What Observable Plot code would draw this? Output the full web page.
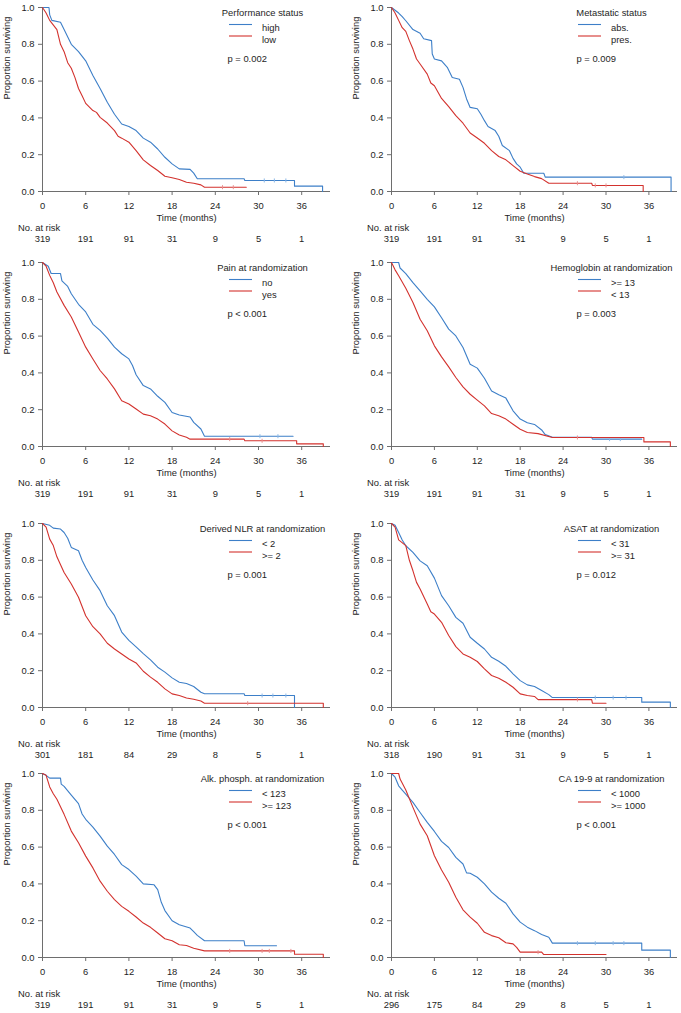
<!DOCTYPE html>
<html><head><meta charset="utf-8">
<script src="https://cdn.jsdelivr.net/npm/d3@7"></script>
<script src="https://cdn.jsdelivr.net/npm/@observablehq/plot@0.6"></script>
<style>
html,body{margin:0;padding:0;background:#fff;overflow:hidden}
#wrap{position:relative;width:681px;height:1013px;background:#fff}
#wrap > div{position:absolute}
</style></head><body><div id="wrap"></div>
<script>
// ---------- data ----------
const timeTicks = [0, 6, 12, 18, 24, 30, 36];
const survTicks = [0, 0.2, 0.4, 0.6, 0.8, 1.0];

const titles = ["Performance status", "Metastatic status", "Pain at randomization", "Hemoglobin at randomization",
  "Derived NLR at randomization", "ASAT at randomization", "Alk. phosph. at randomization", "CA 19-9 at randomization"];
const blueLabels = ["high", "abs.", "no", ">= 13", "< 2", "< 31", "< 123", "< 1000"];
const redLabels = ["low", "pres.", "yes", "< 13", ">= 2", ">= 31", ">= 123", ">= 1000"];
const pValues = ["p = 0.002", "p = 0.009", "p < 0.001", "p = 0.003", "p = 0.001", "p = 0.012", "p < 0.001", "p < 0.001"];

const atRiskA = [319, 191, 91, 31, 9, 5, 1];
const atRiskNLR = [301, 181, 84, 29, 8, 5, 1];
const atRiskASAT = [318, 190, 91, 31, 9, 5, 1];
const atRiskCA = [296, 175, 84, 29, 8, 5, 1];

// survival curves: [time (months), proportion surviving]
const perfHigh = [[0,1],[0.9,1],[1.0,0.96],[1.3,0.93],[2.5,0.92],[3,0.88],[4,0.80],[5,0.76],[6,0.71],[7,0.63],[8,0.56],[9,0.485],[10,0.42],[11,0.367],[12,0.353],[13,0.331],[14,0.29],[15,0.268],[16,0.231],[17,0.186],[18,0.15],[19,0.123],[20.5,0.12],[21,0.10],[21.5,0.069],[28,0.069],[28.1,0.06],[35,0.06],[35,0.029],[38.9,0.029],[38.9,0]];
const perfLow = [[0,1],[0.5,0.97],[1,0.93],[2,0.88],[2.5,0.80],[3,0.76],[3.5,0.70],[4,0.67],[4.5,0.62],[5,0.56],[5.5,0.52],[6,0.479],[7,0.44],[7.5,0.43],[8,0.403],[9,0.372],[10,0.331],[10.5,0.30],[11,0.29],[12,0.268],[13,0.222],[14,0.172],[15,0.141],[16,0.114],[17,0.083],[18,0.075],[19,0.065],[20,0.05],[21,0.045],[22,0.036],[22.5,0.0235],[28.3,0.0235]];
const metAbs = [[0,1],[1,0.97],[1.5,0.95],[2,0.928],[3,0.88],[4,0.86],[4.5,0.83],[5.6,0.82],[5.7,0.747],[6,0.72],[7,0.71],[7.8,0.675],[8.5,0.62],[9.5,0.61],[10,0.566],[10.5,0.503],[11,0.457],[12,0.45],[12.5,0.42],[13,0.385],[13.5,0.353],[14.5,0.331],[15,0.30],[15.5,0.25],[16.5,0.222],[17,0.18],[17.5,0.15],[18,0.132],[18.5,0.099],[21.3,0.099],[21.5,0.078],[39.1,0.078],[39.1,0]];
const metPres = [[0,1],[0.5,0.97],[1,0.93],[1.5,0.89],[2,0.87],[2.5,0.82],[3,0.774],[3.5,0.72],[4,0.693],[5,0.638],[5.5,0.59],[6,0.575],[7,0.506],[8,0.461],[9,0.412],[10,0.371],[11,0.318],[12,0.291],[13,0.262],[14,0.222],[15,0.19],[16,0.172],[17,0.141],[18,0.11],[19,0.095],[20,0.081],[21,0.07],[22,0.045],[28,0.045],[28.1,0.033],[35.2,0.033],[35.2,0]];
const painNo = [[0,1],[0.8,0.98],[1.2,0.94],[2.5,0.94],[2.7,0.90],[3.5,0.87],[4,0.83],[5,0.773],[6,0.731],[7,0.664],[8,0.631],[9,0.589],[10,0.54],[11,0.504],[12,0.476],[12.5,0.44],[13,0.39],[14,0.331],[15,0.313],[16,0.273],[17,0.24],[18,0.185],[19,0.171],[20.5,0.16],[21,0.131],[22,0.095],[22.5,0.056],[34.8,0.056]];
const painYes = [[0,1],[0.5,0.98],[1,0.93],[1.5,0.89],[2,0.84],[3,0.767],[4,0.704],[5,0.622],[6,0.54],[7,0.476],[8,0.413],[9,0.367],[10,0.313],[11,0.249],[12,0.231],[13,0.204],[14,0.176],[15,0.167],[16,0.149],[17,0.122],[18,0.085],[19,0.062],[20,0.05],[20.5,0.04],[28,0.04],[28.1,0.031],[35.3,0.031],[35.3,0.0145],[39,0.0145],[39,0]];
const hbHigh = [[0,1],[1,1],[1.2,0.97],[2,0.94],[3,0.891],[4,0.846],[5,0.80],[6,0.759],[7,0.70],[8,0.638],[9,0.601],[10,0.538],[11,0.447],[12,0.426],[13,0.371],[14,0.302],[15,0.281],[16,0.263],[17,0.194],[18,0.149],[19,0.129],[20,0.12],[21,0.09],[21.5,0.065],[22.5,0.05],[28,0.05],[28.1,0.04],[35,0.04]];
const hbLow = [[0,1],[0.5,0.96],[1,0.928],[2,0.86],[3,0.783],[4,0.692],[5,0.629],[6,0.547],[7,0.487],[8,0.433],[9,0.375],[10,0.324],[11,0.284],[12,0.252],[13,0.221],[14,0.179],[15,0.167],[16,0.149],[17,0.121],[18,0.094],[19,0.076],[20.5,0.07],[22.5,0.049],[35.3,0.049],[35.3,0.025],[39,0.025],[39,0]];
const nlrLow = [[0,1],[1,0.99],[1.5,0.975],[2.5,0.97],[3,0.951],[3.5,0.92],[4,0.87],[5,0.852],[5.5,0.80],[6,0.761],[7,0.693],[8,0.635],[9,0.553],[10,0.499],[11,0.41],[12,0.365],[13,0.329],[14,0.293],[15,0.259],[16,0.219],[17,0.192],[18,0.161],[19,0.137],[20,0.13],[21,0.114],[22,0.083],[22.5,0.075],[28,0.075],[28.1,0.065],[35,0.065],[35,0]];
const nlrHigh = [[0,1],[0.5,0.98],[1,0.915],[1.5,0.88],[2,0.819],[3,0.734],[4,0.671],[5,0.599],[6,0.499],[7,0.439],[8,0.40],[9,0.349],[10,0.318],[11,0.291],[12,0.264],[13,0.242],[14,0.197],[15,0.165],[16,0.137],[17,0.101],[18,0.074],[19,0.065],[20,0.052],[21,0.045],[22,0.035],[22.5,0.0235],[39,0.0235],[39,0]];
const asatLow = [[0,1],[0.5,0.99],[1,0.951],[1.5,0.91],[2,0.879],[3,0.843],[4,0.797],[5,0.77],[6,0.703],[7,0.608],[8,0.553],[9,0.49],[10,0.458],[11,0.382],[12,0.349],[13,0.318],[14,0.273],[15,0.251],[16,0.224],[17,0.183],[18,0.146],[19,0.123],[20,0.114],[21,0.092],[22,0.07],[22.5,0.054],[35,0.054],[35,0.029],[39,0.029],[39,0]];
const asatHigh = [[0,1],[0.5,0.98],[1,0.911],[2,0.88],[2.5,0.80],[3,0.743],[3.5,0.68],[4,0.644],[5,0.562],[5.5,0.52],[6,0.508],[7,0.463],[8,0.391],[9,0.331],[10,0.291],[11,0.273],[12,0.25],[13,0.21],[14,0.174],[15,0.159],[16,0.137],[17,0.11],[18,0.074],[19,0.065],[20,0.06],[20.5,0.043],[28,0.043],[28.1,0.0235],[30,0.0235]];
const alkLow = [[0,1],[0.5,0.99],[1,0.975],[2.5,0.975],[2.6,0.942],[3,0.93],[4,0.882],[5,0.836],[5.5,0.78],[6,0.751],[7,0.709],[8,0.66],[9,0.605],[10,0.56],[11,0.505],[12,0.478],[13,0.442],[14,0.40],[15.5,0.395],[16,0.369],[16.5,0.30],[17,0.255],[18,0.20],[19,0.178],[20.5,0.16],[21,0.14],[21.5,0.12],[22.5,0.091],[28,0.091],[28.1,0.064],[32.5,0.064]];
const alkHigh = [[0,1],[0.5,0.99],[1,0.927],[1.5,0.89],[2,0.86],[3,0.778],[4,0.687],[5,0.624],[6,0.551],[7,0.487],[8,0.415],[9,0.36],[10,0.315],[11,0.278],[12,0.251],[13,0.22],[14,0.187],[15,0.164],[16,0.133],[17,0.102],[18,0.091],[19,0.069],[20,0.065],[21,0.05],[22.5,0.036],[35,0.036],[35,0.018],[39,0.018],[39,0]];
const caLow = [[0,1],[0.5,0.98],[1,0.933],[1.5,0.91],[2,0.888],[3,0.843],[4,0.788],[5,0.734],[6,0.685],[7,0.631],[8,0.598],[9,0.544],[10,0.508],[10.5,0.46],[11,0.458],[12,0.436],[13,0.40],[14,0.355],[15,0.322],[16,0.295],[17,0.237],[18,0.192],[19,0.165],[20,0.146],[21,0.125],[22,0.11],[22.5,0.078],[35,0.078],[35,0.04],[39,0.04],[39,0]];
const caHigh = [[0,1],[1,1],[1.2,0.97],[2,0.91],[3,0.816],[4,0.725],[5,0.662],[6,0.553],[7,0.476],[8,0.409],[9,0.327],[10,0.259],[11,0.219],[12,0.186],[13,0.137],[14,0.119],[15,0.107],[16,0.08],[17,0.074],[17.5,0.055],[18,0.029],[21,0.029],[21.3,0.016],[30,0.016]];

// censoring times (months)
const perfHighCens = [30.8, 32.2, 33.8];
const perfLowCens = [25, 26.5];
const metAbsCens = [32.5];
const metPresCens = [26, 28.5, 30];
const painNoCens = [30.2, 32.7];
const painYesCens = [26, 30.5];
const hbHighCens = [30.5, 32];
const hbLowCens = [26];
const nlrLowCens = [30.5, 32, 33.8];
const nlrHighCens = [28.5];
const asatLowCens = [28.5, 31, 32.8];
const asatHighCens = [26];
const alkLowCens = [];
const alkHighCens = [26, 30.5, 31.5, 34.5];
const caLowCens = [26, 28.5, 31, 32.5];
const caHighCens = [20.5];

// ---------- assembly ----------
const panels = [
  {blue: perfHigh, red: perfLow, bc: perfHighCens, rc: perfLowCens, risk: atRiskA},
  {blue: metAbs, red: metPres, bc: metAbsCens, rc: metPresCens, risk: atRiskA},
  {blue: painNo, red: painYes, bc: painNoCens, rc: painYesCens, risk: atRiskA},
  {blue: hbHigh, red: hbLow, bc: hbHighCens, rc: hbLowCens, risk: atRiskA},
  {blue: nlrLow, red: nlrHigh, bc: nlrLowCens, rc: nlrHighCens, risk: atRiskNLR},
  {blue: asatLow, red: asatHigh, bc: asatLowCens, rc: asatHighCens, risk: atRiskASAT},
  {blue: alkLow, red: alkHigh, bc: alkLowCens, rc: alkHighCens, risk: atRiskA},
  {blue: caLow, red: caHigh, bc: caLowCens, rc: caHighCens, risk: atRiskCA}
];

const BLUE = "#3d7fc8", RED = "#d3322e";
const BLUE_C = "#8cb8e6", RED_C = "#e99090";
const AXIS = "#6e6e6e", TXT = "#1e1e1e";
const FONT = "'Liberation Sans', Arial, Helvetica, sans-serif";

const tickSymbol = {draw(ctx, size) { const r = Math.sqrt(size / Math.PI); ctx.moveTo(0, -r); ctx.lineTo(0, r); }};

function survAt(curve, t) {
  let s = 1;
  for (const [ti, si] of curve) if (ti <= t) s = si;
  return s;
}
const toObj = a => a.map(([t, s]) => ({t, s}));

const rowTops = [6.7, 262, 522.7, 772.7];
const wrap = document.getElementById("wrap");

panels.forEach((cfg, i) => {
  const col = i % 2, row = Math.floor(i / 2);
  const width = col === 0 ? 340 : 341;
  const ml = col === 0 ? 42 : 51, mr = col === 0 ? 10 : 4;
  const mt = 6, frameH = 184, mb = 56;
  const fw = width - ml - mr;
  const ppm = fw / 40;
  const lx1 = 187 / ppm, lx2 = 210 / ppm;
  const ly1 = 1 - 17 / frameH, ly2 = 1 - 28.5 / frameH;
  const bcens = cfg.bc.map(t => ({t, s: survAt(cfg.blue, t)}));
  const rcens = cfg.rc.map(t => ({t, s: survAt(cfg.red, t)}));

  const svg = Plot.plot({
    width, height: mt + frameH + mb,
    marginTop: mt, marginBottom: mb, marginLeft: ml, marginRight: mr,
    x: {domain: [0, 40]},
    y: {domain: [0, 1]},
    style: {fontFamily: FONT, fontSize: "9.4px", background: "transparent", color: TXT, overflow: "visible"},
    marks: [
      Plot.ruleY([0], {stroke: AXIS}),
      Plot.ruleX([0], {stroke: AXIS}),
      Plot.axisX(timeTicks, {tickSize: 4, tickPadding: 7, stroke: AXIS, fill: TXT, label: null, tickFormat: d => String(d)}),
      Plot.axisY(survTicks, {tickSize: 4, tickPadding: 4, stroke: AXIS, fill: TXT, label: null, tickFormat: d => d.toFixed(1)}),
      Plot.line(toObj(cfg.blue), {x: "t", y: "s", stroke: BLUE, strokeWidth: 1.1}),
      Plot.dot(bcens, {x: "t", y: "s", symbol: tickSymbol, r: 2, stroke: BLUE_C, fill: "none", strokeWidth: 1}),
      Plot.line(toObj(cfg.red), {x: "t", y: "s", stroke: RED, strokeWidth: 1.1}),
      Plot.dot(rcens, {x: "t", y: "s", symbol: tickSymbol, r: 2, stroke: RED_C, fill: "none", strokeWidth: 1}),
      // axis titles
      Plot.text(["Proportion surviving"], {frameAnchor: "left", rotate: -90, dx: -36, text: d => d, fill: TXT}),
      Plot.text(["Time (months)"], {frameAnchor: "bottom", dy: 29.5, text: d => d, fill: TXT}),
      Plot.text(["No. at risk"], {frameAnchor: "bottom-left", dx: -24.5, dy: 39, textAnchor: "start", text: d => d, fill: TXT}),
      Plot.text(cfg.risk, {x: (d, j) => timeTicks[j], frameAnchor: "bottom", dy: 50.5, text: d => String(d), fill: TXT}),
      // legend
      Plot.text([titles[i]], {frameAnchor: "top-left", dx: 220, dy: 1.6, textAnchor: "middle", text: d => d, fill: TXT}),
      Plot.ruleY([ly1], {x1: lx1, x2: lx2, stroke: BLUE, strokeWidth: 1.1}),
      Plot.ruleY([ly2], {x1: lx1, x2: lx2, stroke: RED, strokeWidth: 1.1}),
      Plot.text([blueLabels[i]], {frameAnchor: "top-left", dx: 219.5, dy: 17, textAnchor: "start", text: d => d, fill: TXT}),
      Plot.text([redLabels[i]], {frameAnchor: "top-left", dx: 219.5, dy: 28.5, textAnchor: "start", text: d => d, fill: TXT}),
      Plot.text([pValues[i]], {frameAnchor: "top-left", dx: 185, dy: 47.5, textAnchor: "start", text: d => d, fill: TXT})
    ]
  });
  const div = document.createElement("div");
  div.style.left = (col === 0 ? 0 : 340) + "px";
  div.style.top = (rowTops[row] - mt) + "px";
  div.appendChild(svg);
  wrap.appendChild(div);
});
</script>
</body></html>
